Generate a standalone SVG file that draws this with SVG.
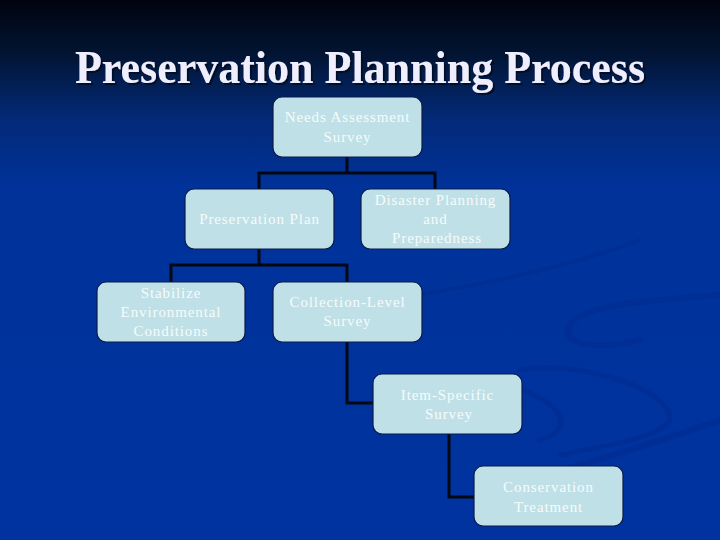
<svg xmlns="http://www.w3.org/2000/svg" width="720" height="540" viewBox="0 0 720 540">
  <defs>
    <linearGradient id="bg" x1="0" y1="0" x2="0" y2="1">
      <stop offset="0" stop-color="#01040e"/>
      <stop offset="0.1" stop-color="#021433"/>
      <stop offset="0.22" stop-color="#032a78"/>
      <stop offset="0.35" stop-color="#00329a"/>
      <stop offset="1" stop-color="#0033a0"/>
    </linearGradient>
    <filter id="shadow" x="-5%" y="-20%" width="110%" height="140%">
      <feDropShadow dx="2" dy="2" stdDeviation="0.6" flood-color="#050a20" flood-opacity="0.9"/>
    </filter>
    <style>
      .box { fill: #bfe0e6; stroke: #0a1a4a; stroke-width: 1.2; }
      .lbl { font-family: "Liberation Serif", "Times New Roman", serif; font-size: 15px; fill: #f6fbfc; text-anchor: middle; letter-spacing: 0.9px; }
      .conn { fill: none; stroke: #000814; stroke-width: 3; }
      .swoosh { fill: none; stroke: #002b8e; stroke-linecap: round; }
      .title { font-family: "Liberation Serif", "Times New Roman", serif; font-weight: bold; font-size: 46px; text-anchor: middle; fill: #eeeeff; }
    </style>
  </defs>
  <rect width="720" height="540" fill="url(#bg)"/>
  <g id="background-swooshes" opacity="0.55">
    <path class="swoosh" stroke-width="6" d="M720 295 C650 300 570 305 568 330 C566 345 600 350 640 340"/>
    <path class="swoosh" stroke-width="4" d="M380 300 C460 290 560 270 640 240"/>
    <path class="swoosh" stroke-width="5" d="M520 370 C560 360 650 380 668 410 C680 430 640 440 560 455"/>
    <path class="swoosh" stroke-width="5" d="M500 385 C560 395 580 430 540 440"/>
    <path class="swoosh" stroke-width="6" d="M560 470 C620 455 690 430 720 420"/>
  </g>
  <g id="title">
    <text class="title" x="360" y="83" filter="url(#shadow)" textLength="570" lengthAdjust="spacingAndGlyphs">Preservation Planning Process</text>
  </g>
  <g id="connectors">
    <path class="conn" d="M347 157 V173 M259 189 V173 H435 V189"/>
    <path class="conn" d="M259 249 V265 M171 282 V265 H347 V282"/>
    <path class="conn" d="M347 342 V403 H373"/>
    <path class="conn" d="M449 434 V497 H474"/>
  </g>
  <g id="needs-assessment">
    <rect class="box" x="273" y="97" width="149" height="60" rx="9"/>
    <text class="lbl" x="347.5" y="122">Needs Assessment</text>
    <text class="lbl" x="347.5" y="142">Survey</text>
  </g>
  <g id="preservation-plan">
    <rect class="box" x="185" y="189" width="149" height="60" rx="9"/>
    <text class="lbl" x="259.5" y="224">Preservation Plan</text>
  </g>
  <g id="disaster-planning">
    <rect class="box" x="361" y="189" width="149" height="60" rx="9"/>
    <text class="lbl" x="435.5" y="205">Disaster Planning</text>
    <text class="lbl" x="435.5" y="224">and</text>
    <text class="lbl" x="437" y="243">Preparedness</text>
  </g>
  <g id="stabilize">
    <rect class="box" x="97" y="282" width="148" height="60" rx="9"/>
    <text class="lbl" x="171" y="298">Stabilize</text>
    <text class="lbl" x="171" y="317">Environmental</text>
    <text class="lbl" x="171" y="336">Conditions</text>
  </g>
  <g id="collection-level">
    <rect class="box" x="273" y="282" width="149" height="60" rx="9"/>
    <text class="lbl" x="347.5" y="307">Collection-Level</text>
    <text class="lbl" x="347.5" y="326">Survey</text>
  </g>
  <g id="item-specific">
    <rect class="box" x="373" y="374" width="149" height="60" rx="9"/>
    <text class="lbl" x="447.5" y="400">Item-Specific</text>
    <text class="lbl" x="449" y="419">Survey</text>
  </g>
  <g id="conservation-treatment">
    <rect class="box" x="474" y="466" width="149" height="60" rx="9"/>
    <text class="lbl" x="548.5" y="492">Conservation</text>
    <text class="lbl" x="548.5" y="512">Treatment</text>
  </g>
</svg>
